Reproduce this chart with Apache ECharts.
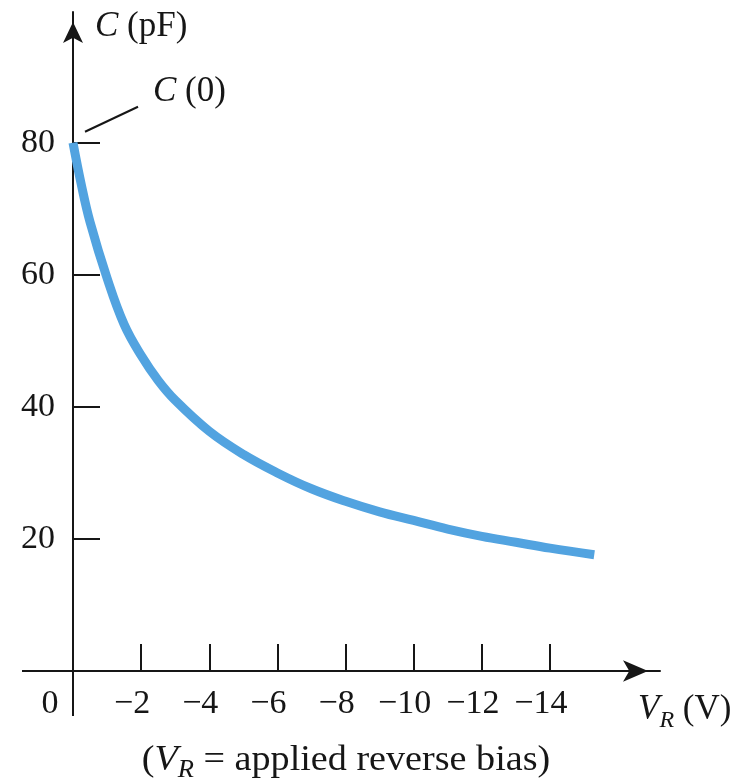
<!DOCTYPE html>
<html>
<head>
<meta charset="utf-8">
<script src="https://cdn.jsdelivr.net/npm/echarts@6/dist/echarts.min.js"></script>
<style>
  html, body { margin: 0; padding: 0; background: #ffffff; }
  #chart { width: 754px; height: 781px; }
</style>
</head>
<body>
<div id="chart"></div>
<script>
// Junction capacitance of a diode versus applied reverse bias
const reverseBias = [0, -0.25, -0.5, -1, -1.5, -2, -2.5, -3, -4, -5, -6, -7, -8, -9, -10, -11, -12, -13, -14, -15.3];
const capacitance = [80, 73.5, 68, 59.5, 52.5, 47.8, 44, 41, 36.3, 32.8, 30, 27.6, 25.7, 24.1, 22.8, 21.5, 20.4, 19.5, 18.6, 17.6];
const xTickValues = [0, -2, -4, -6, -8, -10, -12, -14];
const yTickValues = [20, 40, 60, 80];
const zeroBiasPoint = [0, 80];

const SERIF = 'Liberation Serif';
const INK = '#161616';
const CURVE = '#52a3e0';

const chart = echarts.init(document.getElementById('chart'), null, { renderer: 'canvas' });

const curveData = reverseBias.map((v, i) => [v, capacitance[i]]);

chart.setOption({
  backgroundColor: '#ffffff',
  animation: false,
  grid: { left: 73, right: 94, top: 12, bottom: 110, containLabel: false, outerBoundsMode: 'none' },
  xAxis: {
    type: 'value',
    inverse: true,
    min: -17.23,
    max: 0,
    splitLine: { show: false },
    axisLine: {
      lineStyle: { color: INK, width: 2 },
      symbol: ['none', 'arrow'],
      symbolSize: [16, 25],
      symbolOffset: [0, -12]
    },
    axisTick: {
      show: true,
      inside: true,
      length: 27,
      customValues: xTickValues.filter(v => v !== 0),
      lineStyle: { color: INK, width: 2 }
    },
    axisLabel: {
      customValues: xTickValues,
      margin: 16,
      color: INK,
      fontFamily: SERIF,
      fontSize: 34,
      formatter: v => v === 0 ? '{o|0}' : '{n|' + String(v).replace('-', '\u2212') + '}',
      rich: {
        n: { fontFamily: SERIF, fontSize: 34, color: INK, padding: [0, 18, 0, 0] },
        o: { fontFamily: SERIF, fontSize: 34, color: INK, padding: [0, 46, 0, 0] }
      }
    },
    name: '{v|V}{r|R}{t| (V)}',
    nameLocation: 'start',
    nameGap: -22,
    nameTextStyle: {
      align: 'left',
      verticalAlign: 'top',
      padding: [16, 0, 0, 0],
      color: INK,
      fontFamily: SERIF,
      fontSize: 34,
      rich: {
        v: { fontFamily: SERIF, fontSize: 35, fontStyle: 'italic', color: INK },
        r: { fontFamily: SERIF, fontSize: 24, fontStyle: 'italic', color: INK, padding: [22, 0, 0, 0] },
        t: { fontFamily: SERIF, fontSize: 35, color: INK }
      }
    }
  },
  yAxis: {
    type: 'value',
    min: 0,
    max: 99.8,
    splitLine: { show: false },
    axisLine: {
      lineStyle: { color: INK, width: 2 },
      symbol: ['none', 'arrow'],
      symbolSize: [15, 21],
      symbolOffset: [0, -10]
    },
    axisTick: {
      show: true,
      inside: true,
      length: 27,
      customValues: yTickValues,
      lineStyle: { color: INK, width: 2 }
    },
    axisLabel: {
      customValues: yTickValues,
      margin: 18,
      color: INK,
      fontFamily: SERIF,
      fontSize: 34
    },
    name: '{c|C} (pF)',
    nameLocation: 'end',
    nameGap: -15,
    nameTextStyle: {
      align: 'left',
      verticalAlign: 'middle',
      padding: [0, 0, 0, 22],
      color: INK,
      fontFamily: SERIF,
      fontSize: 35,
      rich: {
        c: { fontFamily: SERIF, fontSize: 35, fontStyle: 'italic', color: INK }
      }
    }
  },
  series: [{
    type: 'line',
    data: curveData,
    showSymbol: false,
    smooth: 0.4,
    clip: false,
    lineStyle: { color: CURVE, width: 9, cap: 'butt', join: 'round' },
    silent: true
  }]
});

// Axis stubs past the origin, the zero-bias annotation and the caption
const origin = chart.convertToPixel({ gridIndex: 0 }, [0, 0]);
const p = chart.convertToPixel({ gridIndex: 0 }, zeroBiasPoint);
chart.setOption({
  graphic: [
    {
      type: 'line',
      shape: { x1: origin[0] - 51, y1: origin[1], x2: origin[0], y2: origin[1] },
      style: { stroke: INK, lineWidth: 2 }
    },
    {
      type: 'line',
      shape: { x1: origin[0], y1: origin[1], x2: origin[0], y2: origin[1] + 45 },
      style: { stroke: INK, lineWidth: 2 }
    },
    {
      type: 'line',
      shape: { x1: p[0] + 12, y1: p[1] - 11, x2: p[0] + 65, y2: p[1] - 36 },
      style: { stroke: INK, lineWidth: 2 }
    },
    {
      type: 'text',
      x: p[0] + 80,
      y: p[1] - 51,
      style: {
        text: '{c|C} (0)',
        font: '35px "' + SERIF + '"',
        fill: INK,
        textAlign: 'left',
        textVerticalAlign: 'middle',
        rich: { c: { fontFamily: SERIF, fontSize: 35, fontStyle: 'italic', fill: INK } }
      }
    },
    {
      type: 'text',
      x: 346,
      y: 738,
      scaleX: 1.06,
      style: {
        text: '({v|V}{r|R} = applied reverse bias)',
        font: '36px "' + SERIF + '"',
        fill: INK,
        textAlign: 'center',
        textVerticalAlign: 'top',
        rich: {
          v: { fontFamily: SERIF, fontSize: 36, fontStyle: 'italic', fill: INK },
          r: { fontFamily: SERIF, fontSize: 25, fontStyle: 'italic', fill: INK, padding: [20, 0, 0, 0] }
        }
      }
    }
  ]
});
</script>
</body>
</html>
